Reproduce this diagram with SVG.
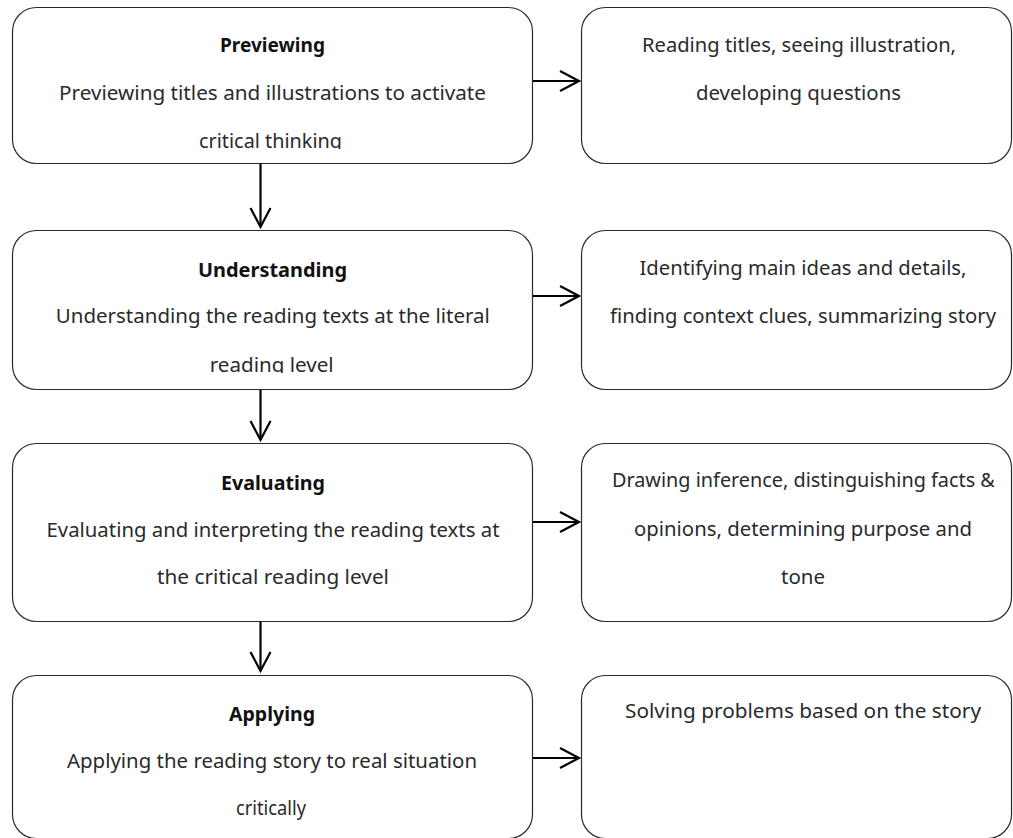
<svg xmlns="http://www.w3.org/2000/svg" width="1013" height="838" viewBox="0 0 1013 838">
<style>
.box{fill:#fff;stroke:#2a2a2a;stroke-width:1.2}
.t{font-family:"Noto Sans","DejaVu Sans",sans-serif;font-size:20px;fill:#2a2a2a;text-anchor:middle}
.h{font-weight:bold;fill:#111}
.con line{stroke:#000;stroke-width:2.2;fill:none}
.con path{stroke:#000;stroke-width:2.2;fill:none;stroke-linejoin:miter}
</style>
<defs>
<clipPath id="c1"><rect x="0" y="0" width="560" height="149"/></clipPath>
<clipPath id="c2"><rect x="0" y="220" width="560" height="153"/></clipPath>
</defs>
<rect width="1013" height="838" fill="#fff"/>

<g id="previewing">
<rect class="box" x="12.5" y="7.5" width="520" height="156" rx="24" ry="24"/>
<text class="t h" x="272.5" y="52" textLength="105" lengthAdjust="spacingAndGlyphs">Previewing</text>
<text class="t" x="272.5" y="100" textLength="427" lengthAdjust="spacingAndGlyphs">Previewing titles and illustrations to activate</text>
<g clip-path="url(#c1)"><text class="t" x="270.5" y="148" textLength="143" lengthAdjust="spacingAndGlyphs">critical thinking</text></g>
</g>

<g id="previewing-detail">
<rect class="box" x="581.5" y="7.5" width="430" height="156" rx="24" ry="24"/>
<text class="t" x="799" y="52" textLength="314" lengthAdjust="spacingAndGlyphs">Reading titles, seeing illustration,</text>
<text class="t" x="798.5" y="100" textLength="205" lengthAdjust="spacingAndGlyphs">developing questions</text>
</g>

<g id="understanding">
<rect class="box" x="12.5" y="230.5" width="520" height="159" rx="24" ry="24"/>
<text class="t h" x="272.5" y="277" textLength="149" lengthAdjust="spacingAndGlyphs">Understanding</text>
<text class="t" x="272.8" y="323" textLength="434" lengthAdjust="spacingAndGlyphs">Understanding the reading texts at the literal</text>
<g clip-path="url(#c2)"><text class="t" x="271.7" y="371.5" textLength="124" lengthAdjust="spacingAndGlyphs">reading level</text></g>
</g>

<g id="understanding-detail">
<rect class="box" x="581.5" y="230.5" width="430" height="159" rx="24" ry="24"/>
<text class="t" x="803" y="275" textLength="327" lengthAdjust="spacingAndGlyphs">Identifying main ideas and details,</text>
<text class="t" x="803" y="323" textLength="386" lengthAdjust="spacingAndGlyphs">finding context clues, summarizing story</text>
</g>

<g id="evaluating">
<rect class="box" x="12.5" y="443.5" width="520" height="178" rx="24" ry="24"/>
<text class="t h" x="273" y="490" textLength="104" lengthAdjust="spacingAndGlyphs">Evaluating</text>
<text class="t" x="273" y="537" textLength="453" lengthAdjust="spacingAndGlyphs">Evaluating and interpreting the reading texts at</text>
<text class="t" x="273" y="584" textLength="232" lengthAdjust="spacingAndGlyphs">the critical reading level</text>
</g>

<g id="evaluating-detail">
<rect class="box" x="581.5" y="443.5" width="430" height="178" rx="24" ry="24"/>
<text class="t" x="803.4" y="487" textLength="383" lengthAdjust="spacingAndGlyphs">Drawing inference, distinguishing facts &amp;</text>
<text class="t" x="803" y="536" textLength="338" lengthAdjust="spacingAndGlyphs">opinions, determining purpose and</text>
<text class="t" x="803" y="584" textLength="44" lengthAdjust="spacingAndGlyphs">tone</text>
</g>

<g id="applying">
<rect class="box" x="12.5" y="675.5" width="520" height="163" rx="24" ry="24"/>
<text class="t h" x="272" y="721" textLength="86" lengthAdjust="spacingAndGlyphs">Applying</text>
<text class="t" x="272" y="768" textLength="410" lengthAdjust="spacingAndGlyphs">Applying the reading story to real situation</text>
<text class="t" x="271" y="815" textLength="70" lengthAdjust="spacingAndGlyphs">critically</text>
</g>

<g id="applying-detail">
<rect class="box" x="581.5" y="675.5" width="430" height="163" rx="24" ry="24"/>
<text class="t" x="803" y="718" textLength="356" lengthAdjust="spacingAndGlyphs">Solving problems based on the story</text>
</g>

<g id="connectors" class="con">
<line x1="533" y1="81" x2="579" y2="81"/><path d="M560,71 L579,81 L560,91"/>
<line x1="533" y1="296" x2="579" y2="296"/><path d="M560,286 L579,296 L560,306"/>
<line x1="533" y1="522" x2="579" y2="522"/><path d="M560,512 L579,522 L560,532"/>
<line x1="533" y1="758" x2="579" y2="758"/><path d="M560,748 L579,758 L560,768"/>
<line x1="260.5" y1="163.5" x2="260.5" y2="227"/><path d="M250.5,208 L260.5,227 L270.5,208"/>
<line x1="260.5" y1="390" x2="260.5" y2="440"/><path d="M250.5,421 L260.5,440 L270.5,421"/>
<line x1="260.5" y1="621.5" x2="260.5" y2="671"/><path d="M250.5,652 L260.5,671 L270.5,652"/>
</g>
</svg>
